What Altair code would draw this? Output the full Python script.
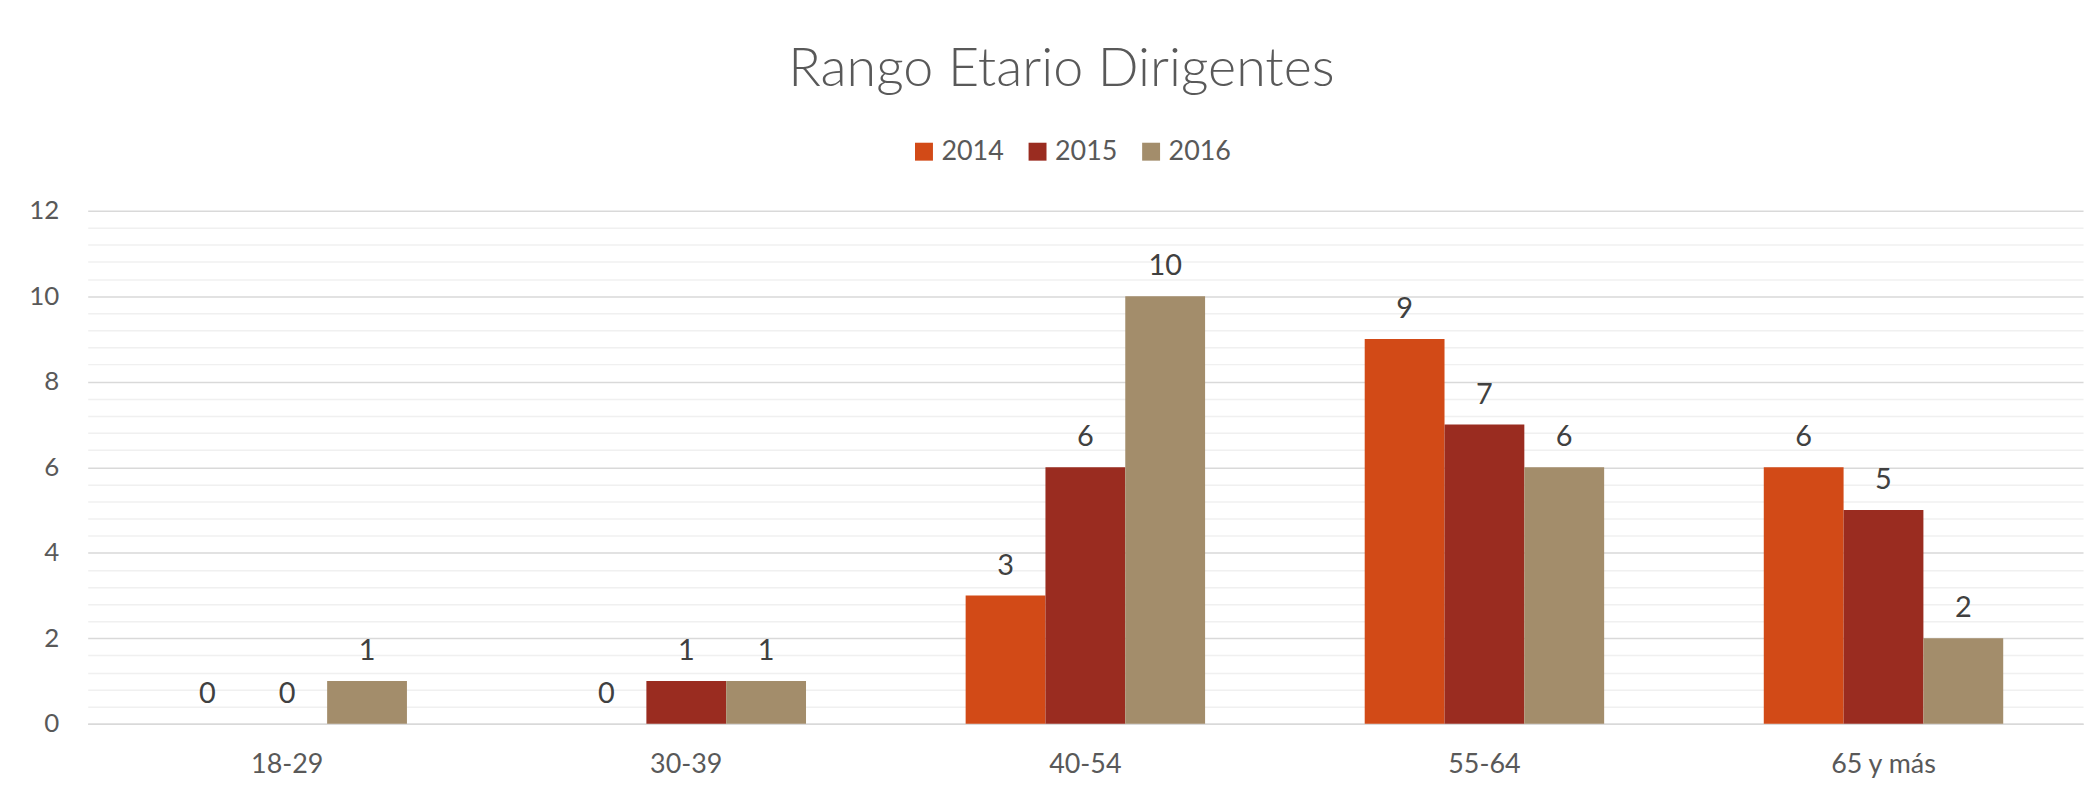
import altair as alt
import pandas as pd

categories = ["18-29", "30-39", "40-54", "55-64", "65 y más"]
years = ["2014", "2015", "2016"]
values_2014 = [0, 0, 3, 9, 6]
values_2015 = [0, 1, 6, 7, 5]
values_2016 = [1, 1, 10, 6, 2]
colors = ["#D24A17", "#9A2C20", "#A38D6B"]
y_ticks = [round(i * 0.4, 1) for i in range(31)]  # major every 2, minor every 0.4

rows = []
for yr, vals in zip(years, [values_2014, values_2015, values_2016]):
    for c, v in zip(categories, vals):
        rows.append({"cat": c, "year": yr, "value": v})
df = pd.DataFrame(rows)

FONT = "Lato"
GRAY = "#595959"

x_enc = alt.X(
    "cat:N", sort=categories,
    scale=alt.Scale(paddingInner=0.4, paddingOuter=0.2),
    axis=alt.Axis(title=None, labelAngle=0, labelFontSize=27, labelFont=FONT,
                  labelColor=GRAY, labelPadding=28, ticks=False, domain=True,
                  domainColor="#d9d9d9", domainWidth=1.5),
)
xo_enc = alt.XOffset("year:N", sort=years)
y_enc = alt.Y(
    "value:Q", scale=alt.Scale(domain=[0, 12], nice=False),
    axis=alt.Axis(
        title=None, values=y_ticks, domain=False, ticks=False,
        labelExpr="datum.value % 2 === 0 ? format(datum.value, 'd') : ''",
        labelOverlap=False, labelFontSize=26, labelFont=FONT, labelColor=GRAY,
        labelPadding=29,
        gridColor={"condition": {"test": "datum.value % 2 === 0", "value": "#d9d9d9"},
                   "value": "#f0f0f0"},
        gridWidth=1.5,
    ),
)

base = alt.Chart(df)
bars = base.mark_bar(strokeWidth=0).encode(
    x=x_enc, xOffset=xo_enc, y=y_enc,
    color=alt.Color(
        "year:N", sort=years, scale=alt.Scale(domain=years, range=colors),
        legend=alt.Legend(
            orient="none", legendX=826, legendY=-73, direction="horizontal",
            title=None, symbolType="square", symbolSize=324, symbolStrokeWidth=0,
            labelFontSize=27, labelFont=FONT, labelColor=GRAY, labelOffset=4,
            columnPadding=20,
        ),
    ),
)
labels = base.mark_text(baseline="alphabetic", dy=-21, fontSize=29, font=FONT,
                        color="#404040").encode(
    x=x_enc, xOffset=xo_enc, y=y_enc, text="value:Q"
)

chart = (bars + labels).properties(
    width=2003, height=515,
    autosize=alt.AutoSizeParams(type="none"),
    padding={"left": 80, "top": 202, "right": 7, "bottom": 60},
    title=alt.TitleParams("Rango Etario Dirigentes", fontSize=54, font=FONT,
                          fontWeight=300, color=GRAY, anchor="middle", dx=-24,
                          offset=41),
).configure(background="white", view=alt.ViewConfig(stroke=None))

chart.save("out.html", embed_options={"renderer": "svg", "actions": False})
